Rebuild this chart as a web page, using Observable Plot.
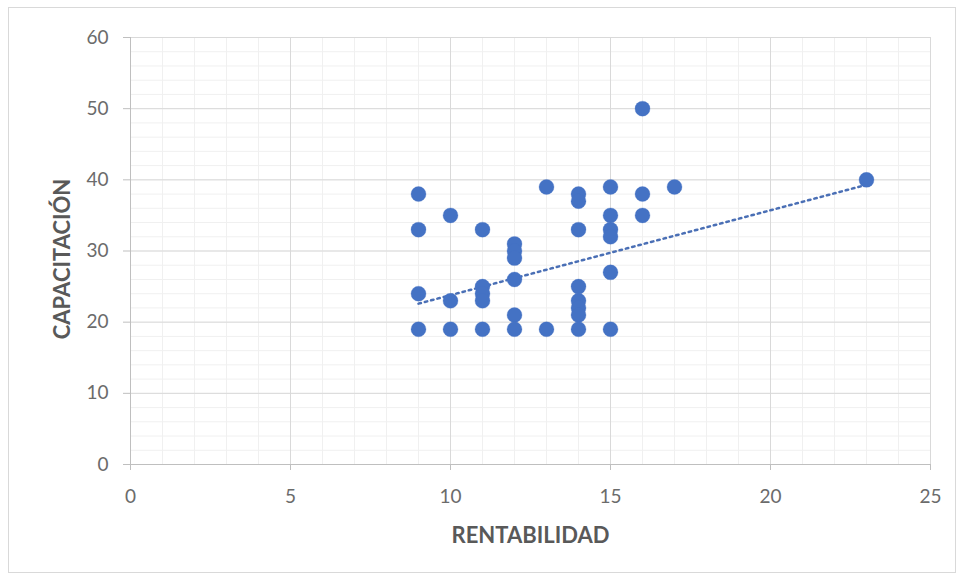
<!DOCTYPE html>
<html>
<head>
<meta charset="utf-8">
<script src="https://cdn.jsdelivr.net/npm/d3@7"></script>
<script src="https://cdn.jsdelivr.net/npm/@observablehq/plot@0.6"></script>
<style>
  html, body { margin: 0; padding: 0; background: #fff; }
  #wrap { position: relative; width: 964px; height: 578px; overflow: hidden; }
  #border { position: absolute; left: 8px; top: 7px; width: 948px; height: 566px; border: 1px solid #d9d9d9; box-sizing: border-box; pointer-events: none; }
</style>
</head>
<body>
<div id="wrap"><div id="border"></div></div>
<script>
// RENTABILIDAD (x) and CAPACITACIÓN (y) values
const rentabilidad = [
  9, 9, 9, 9,
  10, 10, 10,
  11, 11, 11, 11, 11,
  12, 12, 12, 12, 12, 12,
  13, 13,
  14, 14, 14, 14, 14, 14, 14, 14,
  15, 15, 15, 15, 15, 15,
  16, 16, 16,
  17,
  23
];
const capacitacion = [
  38, 33, 24, 19,
  35, 23, 19,
  33, 25, 24, 23, 19,
  31, 30, 29, 26, 21, 19,
  39, 19,
  38, 37, 33, 25, 23, 22, 21, 19,
  39, 35, 33, 32, 27, 19,
  50, 38, 35,
  39,
  40
];
// dotted linear trendline, end values
const trendX = [9, 23];
const trendY = [22.6, 39.3];

const xTicks = [0, 5, 10, 15, 20, 25];
const yTicks = [0, 10, 20, 30, 40, 50, 60];
const xMinor = d3.range(0, 26, 1);
const yMinor = d3.range(0, 61, 2);

const points = rentabilidad.map((x, i) => ({x, y: capacitacion[i]}));
const trend = trendX.map((x, i) => ({x, y: trendY[i]}));

const font = "Lato, 'Open Sans', sans-serif";

const chart = Plot.plot({
  width: 964,
  height: 578,
  marginLeft: 130,
  marginRight: 34,
  marginTop: 37,
  marginBottom: 114,
  style: { fontFamily: font, background: "transparent" },
  x: { domain: [0, 25] },
  y: { domain: [0, 60] },
  marks: [
    Plot.gridX(xMinor, { stroke: "#f0f0f0", strokeOpacity: 1 }),
    Plot.gridY(yMinor, { stroke: "#f0f0f0", strokeOpacity: 1 }),
    Plot.gridX(xTicks, { stroke: "#d9d9d9", strokeOpacity: 1 }),
    Plot.gridY(yTicks, { stroke: "#d9d9d9", strokeOpacity: 1 }),
    Plot.ruleX([0], { stroke: "#bfbfbf" }),
    Plot.ruleY([0], { stroke: "#bfbfbf" }),
    Plot.axisX({ ticks: xTicks, tickSize: 6, tickPadding: 19, stroke: "#bfbfbf", color: "#6b6b6b", fontSize: 19, label: null }),
    Plot.axisY({ ticks: yTicks, tickSize: 7, tickPadding: 15, stroke: "#bfbfbf", color: "#6b6b6b", fontSize: 19, label: null }),
    Plot.line(trend, { x: "x", y: "y", stroke: "#4a6fb5", strokeWidth: 2.5, strokeDasharray: "2.5,4" }),
    Plot.dot(points, { x: "x", y: "y", r: 7.5, fill: "#4472C4", stroke: "#4472C4", strokeOpacity: 0.3, strokeWidth: 1 }),
    Plot.text(["RENTABILIDAD"], { frameAnchor: "bottom", dy: 78, fontSize: 22, fontWeight: "bold", fill: "#595959" }),
    Plot.text(["CAPACITACIÓN"], { frameAnchor: "left", textAnchor: "middle", dx: -68, dy: 8, rotate: -90, fontSize: 22, fontWeight: "bold", fill: "#595959" })
  ]
});
document.getElementById("wrap").prepend(chart);
chart.style.position = "absolute";
chart.style.left = "0px";
chart.style.top = "0px";
</script>
</body>
</html>
